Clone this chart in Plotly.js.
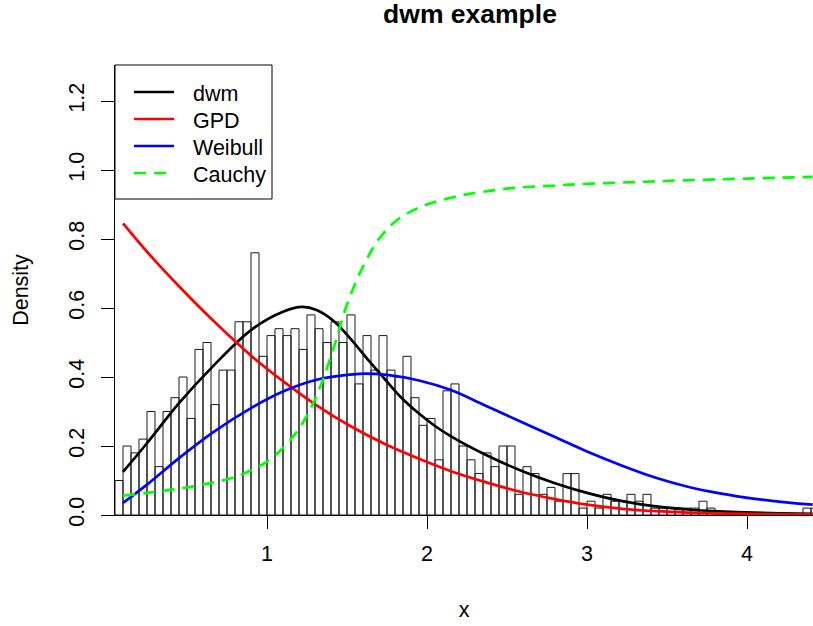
<!DOCTYPE html>
<html><head><meta charset="utf-8">
<script src="https://cdn.plot.ly/plotly-3.0.1.min.js"></script>
<style>html,body{margin:0;padding:0;background:#fff;overflow:hidden}#chart{width:813px;height:626px}</style>
</head><body><div id="chart"></div>
<script>
// Histogram (density) of the sample, breaks every 0.05 starting at 0.05
const histBreakStart = 0.05;
const histBinWidth = 0.05;
const histDensity = [
  0.10,0.20,0.18,0.22,0.30,0.14,0.30,0.34,0.40,0.28,
  0.48,0.50,0.32,0.42,0.42,0.56,0.56,0.76,0.46,0.52,
  0.54,0.52,0.54,0.48,0.58,0.54,0.50,0.56,0.50,0.58,
  0.38,0.52,0.42,0.52,0.42,0.40,0.46,0.34,0.26,0.28,
  0.16,0.36,0.38,0.20,0.16,0.12,0.18,0.14,0.20,0.20,
  0.06,0.14,0.12,0.06,0.08,0.04,0.12,0.12,0.02,0.04,
  0.02,0.06,0.04,0.04,0.06,0.04,0.06,0.02,0.02,0.02,
  0.02,0.02,0.02,0.04,0.02,0,0,0,0,0,
  0,0,0,0,0,0,0.02,0.02
];

// dwm density
const dwmX = [0.1,0.25,0.45,0.66,0.9,1.1,1.22,1.31,1.42,1.52,1.62,1.74,1.84,1.95,2.05,2.15,2.36,2.57,2.8,3.0,3.22,3.43,3.63,3.9,4.2,4.41];
const dwmY = [0.125,0.208,0.324,0.43,0.536,0.589,0.603,0.594,0.561,0.512,0.456,0.392,0.34,0.294,0.258,0.228,0.176,0.132,0.092,0.064,0.040,0.025,0.016,0.009,0.005,0.003];

// GPD density
const gpdX = [0.1,0.25,0.45,0.66,0.9,1.1,1.31,1.52,1.74,1.95,2.15,2.36,2.57,2.8,3.0,3.22,3.43,3.63,3.9,4.2,4.41];
const gpdY = [0.845,0.763,0.663,0.565,0.462,0.388,0.318,0.258,0.205,0.163,0.127,0.096,0.069,0.046,0.030,0.018,0.011,0.007,0.004,0.002,0.001];

// Weibull density
const weibullX = [0.1,0.25,0.45,0.66,0.9,1.1,1.31,1.52,1.62,1.75,1.95,2.15,2.36,2.57,2.8,3.0,3.22,3.43,3.63,3.84,4.05,4.26,4.41];
const weibullY = [0.035,0.088,0.165,0.239,0.31,0.358,0.392,0.407,0.41,0.406,0.39,0.362,0.318,0.274,0.226,0.184,0.143,0.108,0.082,0.062,0.047,0.036,0.030];

// Cauchy (cumulative)
const cauchyX = [0.1,0.25,0.45,0.66,0.8,0.9,1.0,1.1,1.2,1.3,1.4,1.5,1.6,1.7,1.8,1.9,2.0,2.2,2.4,2.6,2.8,3.0,3.3,3.6,4.0,4.41];
const cauchyY = [0.056,0.064,0.076,0.094,0.11,0.13,0.155,0.194,0.25,0.335,0.46,0.61,0.72,0.80,0.85,0.88,0.90,0.925,0.94,0.95,0.955,0.96,0.965,0.97,0.975,0.98];

const seriesNames = ['dwm','GPD','Weibull','Cauchy'];
const seriesColors = ['#000000','#ff0000','#0000ff','#00ff00'];
const seriesDash = ['solid','solid','solid','12px,8px'];
const yTickVals = [0,0.2,0.4,0.6,0.8,1.0,1.2];
const yTickText = ['0.0','0.2','0.4','0.6','0.8','1.0','1.2'];
const xTickVals = [1,2,3,4];
const xTickText = ['1','2','3','4'];

const binMid = histDensity.map((_, i) => histBreakStart + histBinWidth * (i + 0.5));

const FONT = 'Liberation Sans, Arial, Helvetica, sans-serif';
const W = 813, H = 626;
const M = {l:115, r:0, t:65, b:111};
const pw = W - M.l - M.r, ph = H - M.t - M.b;
const pxPerUnit = 160;
const xMin = 0.05, xMax = xMin + pw / pxPerUnit;
const yMax = ph / 345;

const traces = [{
  type:'bar', x: binMid, y: histDensity, width: histBinWidth,
  marker:{color:'rgba(255,255,255,0)', line:{color:'#1a1a1a', width:1}},
  hoverinfo:'skip', showlegend:false
}];
const curves = [[dwmX,dwmY],[gpdX,gpdY],[weibullX,weibullY],[cauchyX,cauchyY]];
curves.forEach((c, i) => traces.push({
  type:'scatter', mode:'lines', x:c[0], y:c[1], name: seriesNames[i],
  line:{color:seriesColors[i], width:2.7, dash:seriesDash[i], shape:'spline', smoothing:1},
  showlegend:false
}));

// manual R-style legend (box at top-left of the plot region)
const px2x = p => (p - M.l) / pw;
const py2y = p => 1 - (p - M.t) / ph;
const shapes = [{type:'rect', xref:'paper', yref:'paper', x0:px2x(115), x1:px2x(272), y0:py2y(199), y1:py2y(65),
  line:{color:'#000', width:1}, fillcolor:'#fff', layer:'above'}];
const annotations = [];
const legendRows = [92, 119, 146, 173];
seriesNames.forEach((n, i) => {
  shapes.push({type:'line', xref:'paper', yref:'paper', x0:px2x(134), x1:px2x(174), y0:py2y(legendRows[i]), y1:py2y(legendRows[i]),
    line:{color:seriesColors[i], width:2.7, dash:seriesDash[i]}, layer:'above'});
  annotations.push({xref:'paper', yref:'paper', x:px2x(191), y:py2y(legendRows[i] + 2), xanchor:'left', yanchor:'middle',
    text:n, showarrow:false, font:{family:FONT, size:21.5, color:'#000'}});
});

const layout = {
  width:W, height:H, margin:M, paper_bgcolor:'#fff', plot_bgcolor:'#fff',
  font:{family:FONT, size:21.5, color:'#000'},
  title:{text:'dwm example', font:{family:FONT, size:26.5, weight:'bold', color:'#000'},
    xref:'container', yref:'container', x:470/W, y:1 - 14/H, xanchor:'center', yanchor:'middle'},
  bargap:0, showlegend:false,
  xaxis:{range:[xMin, xMax], tickmode:'array', tickvals:xTickVals, ticktext:xTickText,
    ticks:'outside', ticklen:13, tickwidth:1, tickcolor:'#000', showline:true, linecolor:'#000', linewidth:1,
    showgrid:false, zeroline:false, tickfont:{size:21.5}, ticklabelstandoff:6,
    title:{text:'x', font:{size:21.5}, standoff:37}},
  yaxis:{range:[0, yMax], tickmode:'array', tickvals:yTickVals, ticktext:yTickText, tickangle:-90,
    ticks:'outside', ticklen:13, tickwidth:1, tickcolor:'#000', showline:true, linecolor:'#000', linewidth:1,
    showgrid:false, zeroline:false, tickfont:{size:21.5}, ticklabelstandoff:8,
    title:{text:'Density', font:{size:21.5}, standoff:30}},
  shapes:shapes, annotations:annotations
};
Plotly.newPlot('chart', traces, layout, {staticPlot:true, displayModeBar:false});
</script></body></html>
